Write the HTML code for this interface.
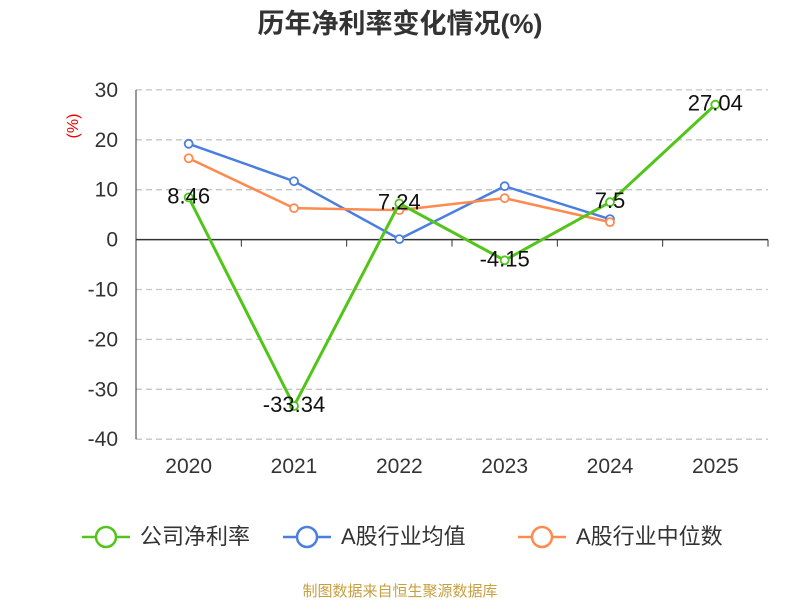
<!DOCTYPE html>
<html><head><meta charset="utf-8"><style>
body{margin:0;background:#fff;font-family:"Liberation Sans","Noto Sans CJK SC",sans-serif}
</style></head><body>
<svg id="chart" width="800" height="600" xmlns="http://www.w3.org/2000/svg" font-family="Liberation Sans, Noto Sans CJK SC, sans-serif">
<text x="400" y="33" text-anchor="middle" font-size="27" font-weight="bold" fill="#333">历年净利率变化情况(%)</text>
<text transform="translate(78,126) rotate(-90)" text-anchor="middle" font-size="16" fill="#e00">(%)</text>
<g id="grid"></g><g id="series"></g>
<g font-size="22" fill="#333">
<g><line x1="82" y1="537" x2="130" y2="537" stroke="#52c41a" stroke-width="2.5"/><circle cx="106" cy="537" r="10" fill="#fff" stroke="#52c41a" stroke-width="2.5"/><text x="140" y="544">公司净利率</text></g>
<g><line x1="283" y1="537" x2="331" y2="537" stroke="#4a7fe0" stroke-width="2.5"/><circle cx="307" cy="537" r="10" fill="#fff" stroke="#4a7fe0" stroke-width="2.5"/><text x="341" y="544">A股行业均值</text></g>
<g><line x1="518" y1="537" x2="566" y2="537" stroke="#ff8a50" stroke-width="2.5"/><circle cx="542" cy="537" r="10" fill="#fff" stroke="#ff8a50" stroke-width="2.5"/><text x="576" y="544">A股行业中位数</text></g>
</g>
<text x="400" y="596" text-anchor="middle" font-size="15" fill="#c8a040">制图数据来自恒生聚源数据库</text>
</svg>
<script>
const categories=["2020","2021","2022","2023","2024","2025"];
const company=[8.46,-33.34,7.24,-4.15,7.5,27.04];
const industryAvg=[19.2,11.7,0.1,10.7,4.1];
const industryMedian=[16.3,6.3,5.9,8.3,3.5];
const yTicks=[30,20,10,0,-10,-20,-30,-40];
const NS="http://www.w3.org/2000/svg";
const x0=136,x1=768,step=(x1-x0)/6;
function xs(i){return x0+step*(i+0.5);}
function ys(v){return 239.6-v*4.99;}
function mk(t,a,p){const e=document.createElementNS(NS,t);for(const k in a)e.setAttribute(k,a[k]);p.appendChild(e);return e;}
const grid=document.getElementById('grid'),ser=document.getElementById('series');
yTicks.forEach(v=>{
 if(v!==0){const l=mk('line',{x1:x0,x2:x1,y1:ys(v),y2:ys(v),stroke:'#c4c4c4','stroke-width':1.3,'stroke-dasharray':'6,4'},grid);
 
 }
 const t=mk('text',{x:118,y:ys(v)+7,'text-anchor':'end','font-size':21,fill:'#333'},grid);t.textContent=v;
 
 
});
mk('line',{x1:x0,x2:x0,y1:ys(30),y2:ys(-40),stroke:'#333'},grid);
const ax=mk('line',{x1:x0,x2:x1,y1:ys(0),y2:ys(0),stroke:'#333','stroke-width':1.5},grid);


for(let i=0;i<=6;i++)mk('line',{x1:x0+step*i,x2:x0+step*i,y1:ys(0),y2:ys(0)+7,stroke:'#333'},grid);
categories.forEach((c,i)=>{const t=mk('text',{x:xs(i),y:473,'text-anchor':'middle','font-size':21,fill:'#333'},grid);t.textContent=c;
 
 });
function line(d,col,w,name,labels){
 const g=mk('g',{},ser);
 
 
 mk('polyline',{points:d.map((v,i)=>xs(i)+','+ys(v)).join(' '),fill:'none',stroke:col,'stroke-width':w},g);
 d.forEach((v,i)=>{const c=mk('circle',{cx:xs(i),cy:ys(v),r:4,fill:'#fff',stroke:col,'stroke-width':1.8},g);
  
  
  if(labels){const t=mk('text',{x:xs(i),y:ys(v)+6,'text-anchor':'middle','font-size':22,fill:'#111'},g);t.textContent=v;
  
  }});
}
line(industryAvg,'#4a7fe0',2.5,'industry-avg-line',false);
line(industryMedian,'#ff8a50',2.5,'industry-median-line',false);
line(company,'#52c41a',3,'company-line',true);
</script>
</body></html>
